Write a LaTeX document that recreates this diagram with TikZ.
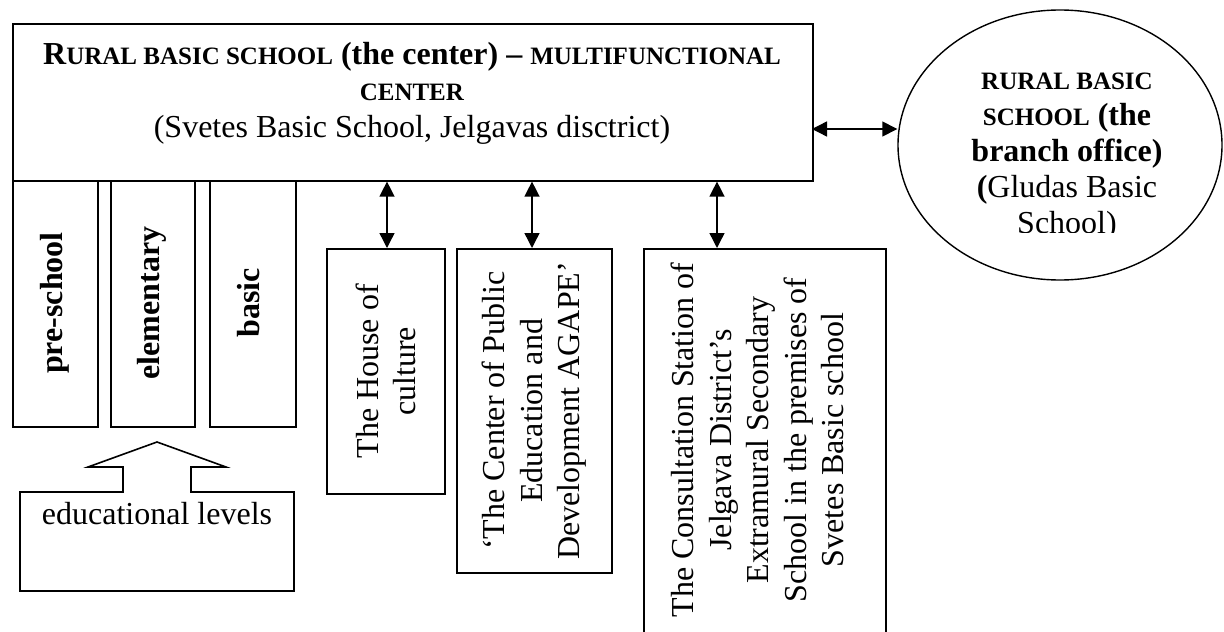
\documentclass[tikz,border=0pt]{standalone}
\usepackage{fontspec}
\setmainfont{Liberation Serif}
\usetikzlibrary{arrows.meta,shapes.geometric}
\newcommand\smallcp[1]{{\fontsize{25}{36.5}\selectfont #1}}
\begin{document}
\begin{tikzpicture}[x=1pt,y=-1pt,
  box/.style={draw, line width=1.6pt, inner sep=0pt, minimum width=#1},
  link/.style={line width=1.4pt, {Triangle[length=15pt,width=15pt]}-{Triangle[length=15pt,width=15pt]}},
  body/.style={font=\fontsize{32}{37.5}\selectfont, align=center, inner sep=0pt},
  vlab/.style={body, rotate=90},
  lvl/.style={vlab, font=\fontsize{32}{37.5}\selectfont\bfseries, text height=22pt, text depth=7pt},
]
\useasboundingbox (0,0) rectangle (1224,632);
\clip (0,0) rectangle (1224,632);

% main box
\node[box=800pt, minimum height=157pt, anchor=north west] (main) at (12,23) {};
\node[anchor=north, inner sep=0pt, align=center, font=\fontsize{32}{36.5}\selectfont] (title) at (412,42)
  {\textbf{R\smallcp{URAL BASIC SCHOOL} (the center) – \smallcp{MULTIFUNCTIONAL}}\\
   \textbf{\smallcp{CENTER}}\\
   (Svetes Basic School, Jelgavas disctrict)};

% branch office ellipse
\node[draw, ellipse, line width=1.4pt, inner sep=0pt, minimum width=324pt, minimum height=270pt] (branch) at (1060,145) {};
\begin{scope}
  \clip (900,0) rectangle (1224,232);
  \node[anchor=north, inner sep=0pt, align=center, font=\fontsize{32}{36}\selectfont] (btext) at (1067,72.5)
    {\textbf{\smallcp{RURAL BASIC}}\\
     \textbf{\smallcp{SCHOOL} (the}\\
     \textbf{branch office)}\\
     \textbf{(}Gludas Basic\\
     School)};
\end{scope}

% educational level boxes
\node[box=85pt, minimum height=246pt, anchor=north west] (pre) at (12,180) {};
\node[box=84pt, minimum height=246pt, anchor=north west] (elem) at (110,180) {};
\node[box=86pt, minimum height=246pt, anchor=north west] (basic) at (209,180) {};
\node[lvl] (tpre) at (54.5,303) {pre-school};
\node[lvl] (telem) at (152,303) {elementary};
\node[lvl] (tbasic) at (252,303) {basic};

% partner boxes
\node[box=118pt, minimum height=245pt, anchor=north west] (house) at (326,248) {};
\node[vlab] (thouse) at (house.center) {The House of\\culture};
\node[box=155pt, minimum height=324pt, anchor=north west] (agape) at (456,248) {};
\node[vlab] (tagape) at (agape.center) {‘The Center of Public\\Education and\\Development AGAPE’};
\node[box=242pt, minimum height=386pt, anchor=north west] (consult) at (643,248) {};
\node[vlab] (tconsult) at (757.5,440) {The Consultation Station of\\Jelgava District’s\\Extramural Secondary\\School in the premises of\\Svetes Basic school};

% connectors
\coordinate (hA) at (812,129);
\draw[link] (hA) -- (hA -| branch.west);
\coordinate (v1) at (387,248);
\coordinate (v2) at (532,248);
\coordinate (v3) at (717,248);
\draw[link] (v1 |- main.south) -- (v1);
\draw[link] (v2 |- main.south) -- (v2);
\draw[link] (v3 |- main.south) -- (v3);

% educational levels callout
\draw[line width=1.6pt, line join=miter] (20,591) -- (20,492) -- (123,492) -- (123,467) -- (88,467) -- (157,442)
  -- (226,467) -- (191,467) -- (191,492) -- (294,492) -- (294,591) -- cycle;
\node[body, anchor=base] (edu) at (157,524) {educational levels};
\end{tikzpicture}
\end{document}
